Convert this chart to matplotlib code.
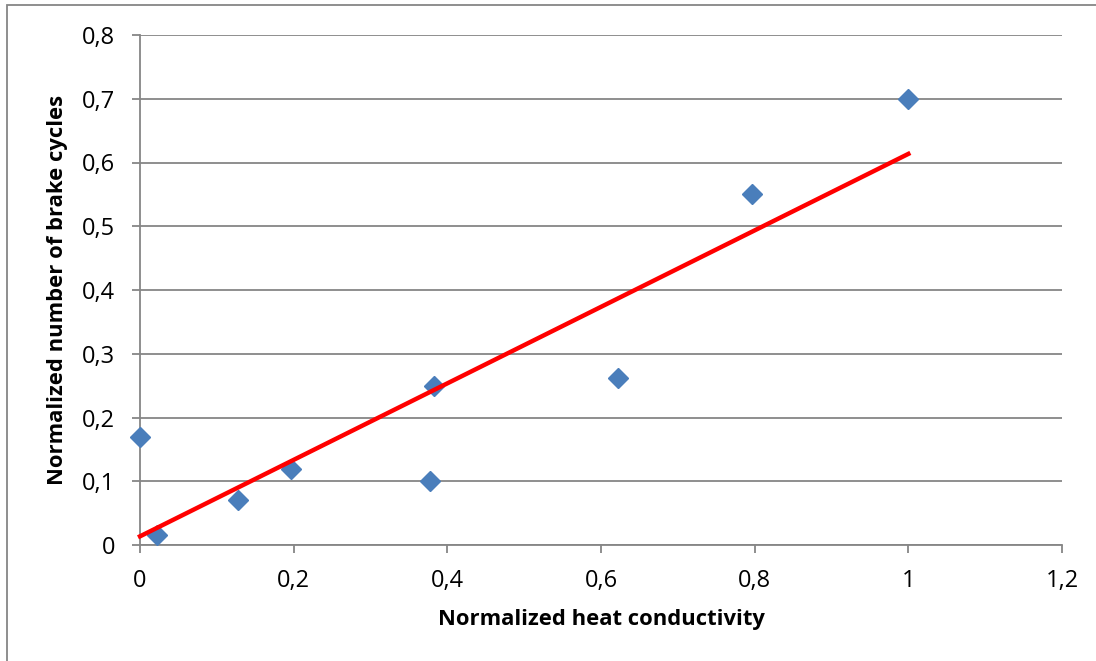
import matplotlib
matplotlib.use("Agg")
import matplotlib.pyplot as plt
from matplotlib.patches import Rectangle
import numpy as np

plt.rcParams['font.family'] = ['Open Sans', 'DejaVu Sans']

heat_conductivity = [0.0, 0.022, 0.127, 0.197, 0.378, 0.382, 0.622, 0.797, 1.0]
brake_cycles = [0.17, 0.015, 0.07, 0.12, 0.10, 0.25, 0.262, 0.55, 0.70]

x_ticks = [0, 0.2, 0.4, 0.6, 0.8, 1.0, 1.2]
x_tick_labels = ['0', '0,2', '0,4', '0,6', '0,8', '1', '1,2']
y_ticks = [0, 0.1, 0.2, 0.3, 0.4, 0.5, 0.6, 0.7, 0.8]
y_tick_labels = ['0', '0,1', '0,2', '0,3', '0,4', '0,5', '0,6', '0,7', '0,8']

x_label = 'Normalized heat conductivity'
y_label = 'Normalized number of brake cycles'

fig = plt.figure(figsize=(10.96, 6.61), dpi=100)
ax = fig.add_axes([140/1096, 1-545/661, (1062-140)/1096, (545-35)/661])

grey = '#868686'
ax.set_xlim(0, 1.2)
ax.set_ylim(0, 0.8)
ax.set_xticks(x_ticks)
ax.set_xticklabels(x_tick_labels)
ax.set_yticks(y_ticks)
ax.set_yticklabels(y_tick_labels)
ax.yaxis.grid(True, color=grey, linewidth=1.3)
ax.set_axisbelow(True)
for s in ['top', 'right']:
    ax.spines[s].set_visible(False)
for s in ['left', 'bottom']:
    ax.spines[s].set_color(grey)
    ax.spines[s].set_linewidth(1.3)
ax.tick_params(axis='both', colors=grey, length=6, width=1.3, labelsize=17,
               labelcolor='black')
ax.tick_params(axis='x', pad=11)
ax.tick_params(axis='y', pad=12)

# linear trend line
coef = np.polyfit(heat_conductivity, brake_cycles, 1)
xs = np.array([min(heat_conductivity), max(heat_conductivity)])
ax.plot(heat_conductivity, brake_cycles, linestyle='none', marker='D',
        markersize=10.5, color='#4a7ebb', clip_on=False, zorder=3)
ax.plot(xs, np.polyval(coef, xs), color='#ff0000', linewidth=3.2, zorder=4,
        clip_on=False)

ax.set_xlabel(x_label, fontsize=15.8, fontweight='bold', labelpad=12)
ax.set_ylabel(y_label, fontsize=15.8, fontweight='bold', labelpad=10)

# outer chart border
fig.patches.append(Rectangle((7/1096, -0.1), 1.2, 1 - 5/661 + 0.1,
                             transform=fig.transFigure, fill=False,
                             edgecolor=grey, linewidth=1.3))

fig.savefig('out.png', dpi=100)
